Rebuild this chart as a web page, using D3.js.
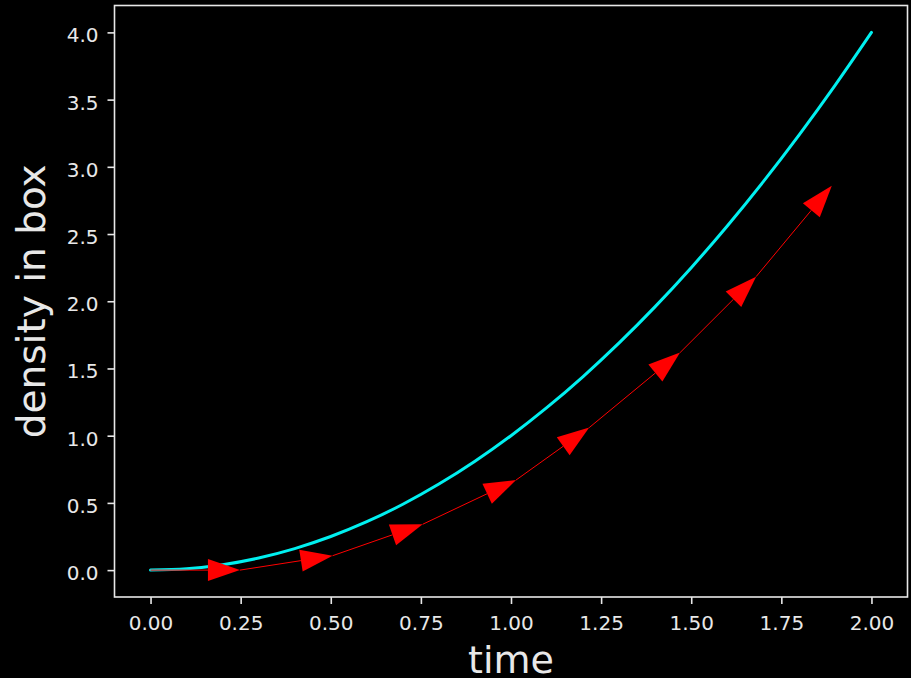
<!DOCTYPE html>
<html>
<head>
<meta charset="utf-8">
<script src="https://cdn.jsdelivr.net/npm/d3@7"></script>
<style>
  body { margin: 0; background: #000; }
  svg { display: block; }
</style>
</head>
<body>
<script>
// data
var xTicks = [0, 0.25, 0.5, 0.75, 1.0, 1.25, 1.5, 1.75, 2.0];
var yTicks = [0, 0.5, 1.0, 1.5, 2.0, 2.5, 3.0, 3.5, 4.0];

var curveT = [0, 0.1, 0.2, 0.3, 0.4, 0.5, 0.6, 0.7, 0.8, 0.9, 1.0,
              1.1, 1.2, 1.3, 1.4, 1.5, 1.6, 1.7, 1.8, 1.9, 2.0];
var curveV = [0, 0.01, 0.04, 0.09, 0.16, 0.25, 0.36, 0.49, 0.64, 0.81, 1.0,
              1.21, 1.44, 1.69, 1.96, 2.25, 2.56, 2.89, 3.24, 3.61, 4.0];

var arrowT = [0, 0.248, 0.505, 0.755, 1.014, 1.217, 1.469, 1.680, 1.890];
var arrowV = [0, 0.0, 0.107, 0.341, 0.670, 1.060, 1.618, 2.183, 2.860];

var width = 911, height = 678;
var mLeft = 114.5, mRight = 907.5, mTop = 5.5, mBottom = 597;
var font = "'DejaVu Sans', sans-serif";
var fg = "#e8e8e8";

var svg = d3.select("body").append("svg")
    .attr("width", width)
    .attr("height", height)
    .style("background", "#000");

var x = d3.scaleLinear().domain([-0.1, 2.1]).range([mLeft, mRight]);
var y = d3.scaleLinear().domain([-0.2, 4.2]).range([mBottom, mTop]);

// cyan curve
var line = d3.line()
    .x(function(d) { return x(d[0]); })
    .y(function(d) { return y(d[1]); })
    .curve(d3.curveCatmullRom);

svg.append("path")
    .datum(d3.zip(curveT, curveV))
    .attr("d", line)
    .attr("fill", "none")
    .attr("stroke", "#00f0f0")
    .attr("stroke-width", 3)
    .attr("stroke-linecap", "round");

// red arrow chain
var headLen = 32, headW = 22;
var pts = d3.zip(arrowT, arrowV).map(function(d) { return [x(d[0]), y(d[1])]; });

for (var i = 1; i < pts.length; i++) {
  var a = pts[i - 1], b = pts[i];
  var dx = b[0] - a[0], dy = b[1] - a[1];
  var len = Math.sqrt(dx * dx + dy * dy);
  var ux = dx / len, uy = dy / len;
  var bx = b[0] - ux * headLen, by = b[1] - uy * headLen;

  svg.append("line")
      .attr("x1", a[0]).attr("y1", a[1])
      .attr("x2", bx).attr("y2", by)
      .attr("stroke", "red")
      .attr("stroke-width", 1);

  svg.append("polygon")
      .attr("points", [
        [b[0], b[1]],
        [bx - uy * headW / 2, by + ux * headW / 2],
        [bx + uy * headW / 2, by - ux * headW / 2]
      ].map(function(p) { return p.join(","); }).join(" "))
      .attr("fill", "red");
}

// axes
var xAxis = svg.append("g")
    .attr("transform", "translate(0," + mBottom + ")")
    .call(d3.axisBottom(x).tickValues(xTicks).tickFormat(d3.format(".2f")).tickSize(7));

var yAxis = svg.append("g")
    .attr("transform", "translate(" + mLeft + ",0)")
    .call(d3.axisLeft(y).tickValues(yTicks).tickFormat(d3.format(".1f")).tickSize(7));

[xAxis, yAxis].forEach(function(g) {
  g.select(".domain").remove();
  g.selectAll(".tick line").attr("stroke", fg).attr("stroke-width", 1.6);
  g.selectAll(".tick text")
      .attr("fill", fg)
      .style("font-family", font)
      .style("font-size", "20px");
});

xAxis.selectAll(".tick text").attr("y", 33).attr("dy", 0);
yAxis.selectAll(".tick text").attr("x", -16).attr("dy", 0).attr("y", 9.5);

// spines
svg.append("rect")
    .attr("x", mLeft).attr("y", mTop)
    .attr("width", mRight - mLeft).attr("height", mBottom - mTop)
    .attr("fill", "none")
    .attr("stroke", fg)
    .attr("stroke-width", 1.6);

// labels
svg.append("text")
    .attr("x", (mLeft + mRight) / 2)
    .attr("y", 673)
    .attr("text-anchor", "middle")
    .attr("fill", fg)
    .style("font-family", font)
    .style("font-size", "38px")
    .text("time");

svg.append("text")
    .attr("transform", "translate(45," + ((mTop + mBottom) / 2) + ") rotate(-90)")
    .attr("text-anchor", "middle")
    .attr("fill", fg)
    .style("font-family", font)
    .style("font-size", "39px")
    .text("density in box");
</script>
</body>
</html>
